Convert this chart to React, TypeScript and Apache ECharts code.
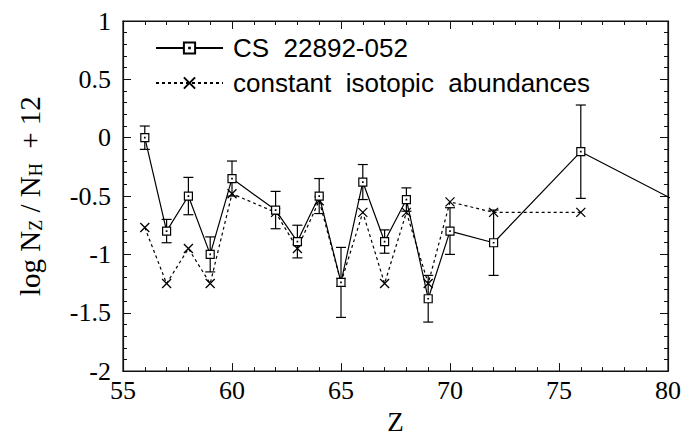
import React, { useEffect, useRef } from "react";
import * as echarts from "echarts";

const zValues = [56, 57, 58, 59, 60, 62, 63, 64, 65, 66, 67, 68, 69, 70, 72, 76, 82];
const csValues = [0.0, -0.8, -0.5, -1.0, -0.35, -0.62, -0.89, -0.5, -1.24, -0.38, -0.89, -0.53, -1.38, -0.8, -0.9, -0.12, -0.70];
const csErrors = [0.1, 0.1, 0.16, 0.15, 0.15, 0.16, 0.14, 0.15, 0.3, 0.15, 0.1, 0.1, 0.2, 0.2, 0.28, 0.4, null];
const isoZ = [56, 57, 58, 59, 60, 62, 63, 64, 65, 66, 67, 68, 69, 70, 72, 76];
const isoValues = [-0.77, -1.25, -0.95, -1.25, -0.48, -0.64, -0.95, -0.54, -1.24, -0.64, -1.25, -0.64, -1.25, -0.55, -0.64, -0.64];
const seriesNames = ["CS  22892-052", "constant  isotopic  abundances"];

const SERIF = "'Liberation Serif', 'Times New Roman', serif";
const SANS = "'Liberation Sans', Arial, sans-serif";

export default function App() {
  const ref = useRef<HTMLDivElement>(null);
  useEffect(() => {
    if (!ref.current) return;
    const chart = echarts.init(ref.current, undefined, { renderer: "svg" });
    const errData = zValues
      .map((z, i) => (csErrors[i] == null ? null : [z, csValues[i] - (csErrors[i] as number), csValues[i] + (csErrors[i] as number)]))
      .filter((d) => d !== null);
    const axisCommon = {
      axisLine: { show: true, onZero: false, lineStyle: { color: "#111", width: 1.2 } },
      axisTick: { inside: true, length: 8, lineStyle: { color: "#111", width: 1 } },
      minorTick: { show: true, splitNumber: 5, length: 4, lineStyle: { color: "#111", width: 1 } },
      splitLine: { show: false },
    };
    chart.setOption({
      animation: false,
      backgroundColor: "#fff",
      grid: { left: 123, right: 25, top: 21, bottom: 60, show: true, borderColor: "#111", borderWidth: 1.2 },
      legend: {
        orient: "vertical",
        left: 155,
        top: 34,
        padding: 0,
        itemWidth: 67,
        itemHeight: 14,
        itemGap: 7,
        textStyle: { fontFamily: SANS, fontSize: 26, color: "#000", lineHeight: 28, padding: [0, 0, 0, 5] },
        data: seriesNames,
      },
      xAxis: [
        {
          type: "value",
          min: 55,
          max: 80,
          interval: 5,
          position: "bottom",
          ...axisCommon,
          axisLabel: { fontFamily: SERIF, fontSize: 26, color: "#000", margin: 6 },
          name: "Z",
          nameLocation: "middle",
          nameGap: 33,
          nameTextStyle: { fontFamily: SERIF, fontSize: 27, color: "#000" },
        },
        {
          type: "value",
          min: 55,
          max: 80,
          interval: 5,
          position: "top",
          ...axisCommon,
          axisLabel: { show: false },
        },
      ],
      yAxis: [
        {
          type: "value",
          min: -2,
          max: 1,
          interval: 0.5,
          position: "left",
          ...axisCommon,
          axisLabel: { fontFamily: SERIF, fontSize: 26, color: "#000", margin: 12 },
          name: "log N{sub|Z} / N{sub|H}  + 12",
          nameLocation: "middle",
          nameGap: 78,
          nameTextStyle: {
            fontFamily: SERIF,
            fontSize: 29,
            color: "#000",
            rich: {
              sub: { fontFamily: SERIF, fontSize: 18, color: "#000", padding: [13, 0, 0, 0] },
            },
          },
        },
        {
          type: "value",
          min: -2,
          max: 1,
          interval: 0.5,
          position: "right",
          ...axisCommon,
          axisLabel: { show: false },
        },
      ],
      series: [
        {
          name: seriesNames[0],
          type: "line",
          data: zValues.map((z, i) => [z, csValues[i]]),
          symbol: "path://M0,0L10,0L10,10L0,10Z M4.7,4.7L5.3,4.7L5.3,5.3L4.7,5.3Z",
          symbolSize: 8,
          clip: true,
          lineStyle: { color: "#000", width: 1.2, type: "solid" },
          itemStyle: { color: "#fff", borderColor: "#000", borderWidth: 1.2 },
          z: 5,
        },
        {
          name: seriesNames[1],
          type: "line",
          data: isoZ.map((z, i) => [z, isoValues[i]]),
          symbol: "path://M0,0L10,10M10,0L0,10",
          symbolSize: 9,
          clip: true,
          lineStyle: { color: "#000", width: 1.2, type: [3, 3] },
          itemStyle: { color: "none", borderColor: "#000", borderWidth: 1.3 },
          z: 4,
        },
        {
          type: "custom",
          clip: true,
          data: errData,
          encode: { x: 0, y: [1, 2] },
          renderItem: (params: any, api: any) => {
            const x = api.value(0);
            const lo = api.coord([x, api.value(1)]);
            const hi = api.coord([x, api.value(2)]);
            const w = 5;
            const style = { stroke: "#000", lineWidth: 1.2 };
            return {
              type: "group",
              children: [
                { type: "line", shape: { x1: lo[0], y1: lo[1], x2: hi[0], y2: hi[1] }, style },
                { type: "line", shape: { x1: lo[0] - w, y1: lo[1], x2: lo[0] + w, y2: lo[1] }, style },
                { type: "line", shape: { x1: hi[0] - w, y1: hi[1], x2: hi[0] + w, y2: hi[1] }, style },
              ],
            };
          },
          z: 3,
        },
      ],
    });
    return () => chart.dispose();
  }, []);
  return <div ref={ref} style={{ width: 693, height: 440, position: "absolute", left: 0, top: 0 }} />;
}
